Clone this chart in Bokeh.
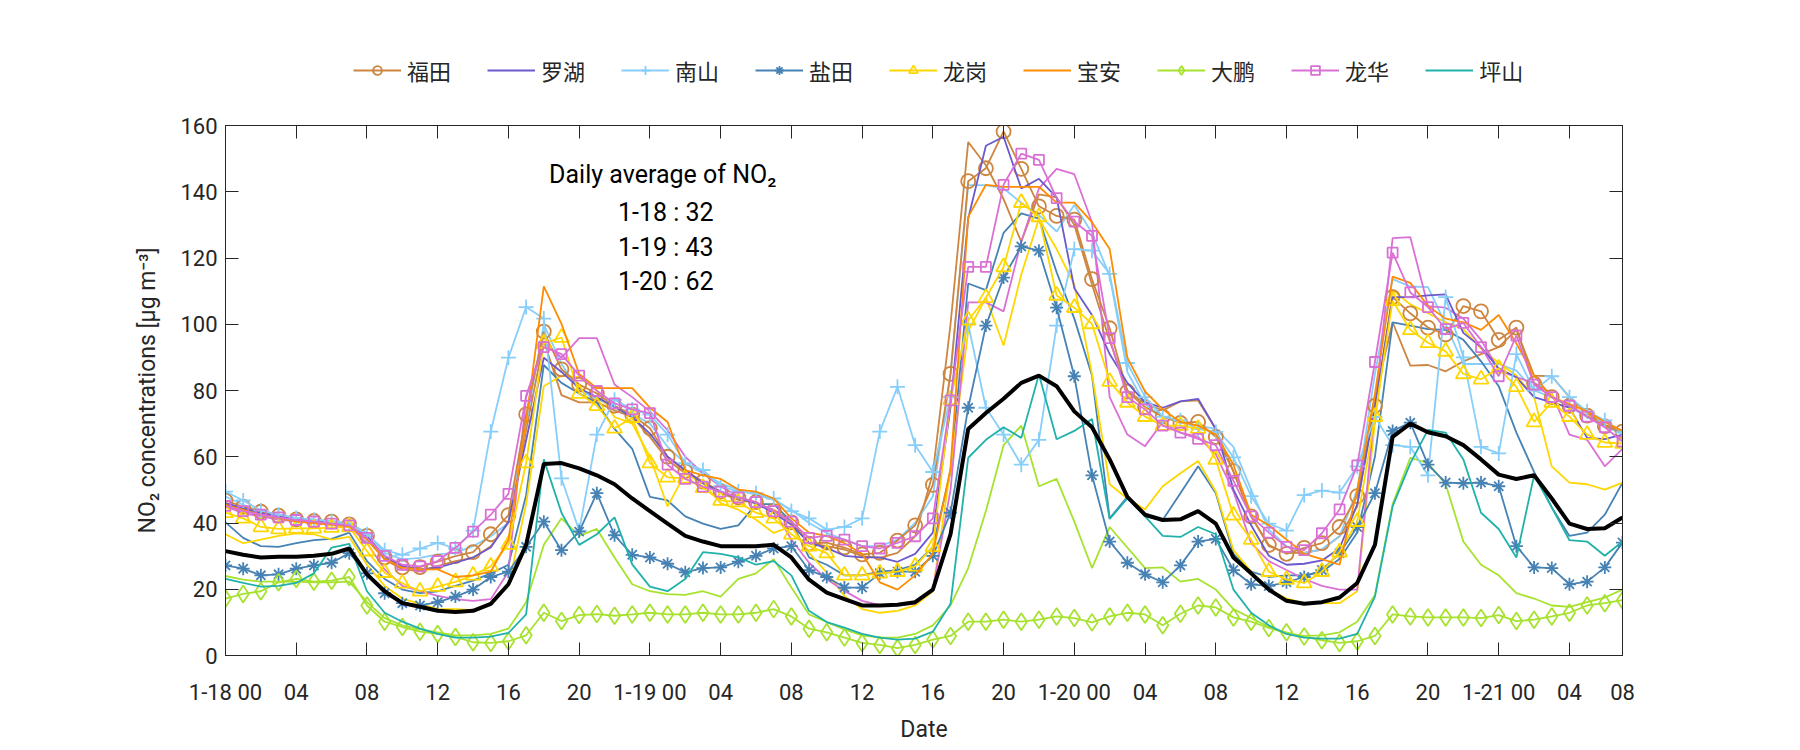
from bokeh.plotting import figure
from bokeh.layouts import column
from bokeh.models import (Range1d, FixedTicker, LinearAxis, Legend, LegendItem, Label)
from bokeh.embed import file_html
from bokeh.resources import INLINE

hours = list(range(80))
tick_pos = [0, 4, 8, 12, 16, 20, 24, 28, 32, 36, 40, 44, 48, 52, 56, 60, 64, 68, 72, 76, 79]
tick_txt = ["1-18 00", "04", "08", "12", "16", "20", "1-19 00", "04", "08", "12", "16", "20",
            "1-20 00", "04", "08", "12", "16", "20", "1-21 00", "04", "08"]
y_ticks = [0, 20, 40, 60, 80, 100, 120, 140, 160]

names = ["福田", "罗湖", "南山", "盐田", "龙岗", "宝安", "大鹏", "龙华", "坪山"]

futian = [46.8, 44.9, 43.4, 42.2, 41.1, 40.6, 40.4, 39.6, 36.1, 29.6,
          26.6, 26.7, 28.3, 30.0, 31.2, 36.6, 42.4, 72.8, 97.8, 86.4,
          81.8, 79.1, 75.4, 72.7, 68.6, 60.0, 55.7, 52.5, 49.5, 47.7,
          46.3, 43.6, 40.2, 33.8, 34.1, 32.6, 30.5, 31.0, 34.7, 39.3,
          51.5, 85.0, 143.2, 147.1, 158.2, 146.9, 135.6, 132.7, 131.6, 113.6,
          98.8, 79.7, 75.0, 72.1, 70.2, 70.5, 66.0, 55.7, 42.0, 33.4,
          30.7, 32.5, 33.9, 38.8, 48.1, 75.4, 108.2, 103.3, 99.0, 96.9,
          105.5, 103.9, 95.3, 99.0, 82.1, 78.0, 75.4, 72.4, 69.2, 67.6]
futian_b = [46, 44, 43, 42, 41, 40.5, 40, 39.5, 35.5, 29,
            26, 25.5, 27, 28.5, 29.5, 33, 40, 68, 95, 78.6,
            76.4, 76.4, 74, 72, 66, 59, 55, 52, 49, 47,
            46, 44, 40.5, 34, 33, 32, 30, 29.5, 31, 36,
            55, 100, 155, 148, 137.8, 124.9, 139.2, 138.3, 130, 112,
            95, 80, 76, 74, 76.7, 77, 68.4, 55.4, 42, 33,
            31, 31, 32, 36, 45, 78, 100.6, 87.5, 87.7, 85.8,
            88.8, 91.0, 93.1, 98.3, 84.5, 84.3, 78, 73.2, 69.6, 67.8]
luohu = [46, 44.5, 43, 42, 41, 40.5, 40, 39.5, 36, 30,
         27, 26, 26.5, 28, 29.6, 32.6, 40.4, 65, 89.9, 85.6,
         80.7, 78, 75, 72, 67, 60, 56, 52, 49.5, 47.5,
         46, 43, 39.5, 34, 32.5, 30.1, 29.6, 29.6, 28.3, 30.7,
         37.1, 75, 131.9, 153.9, 156.6, 141.0, 143.9, 138.3, 110.9, 102.8,
         91.0, 82.3, 76.4, 74.8, 76.7, 77.5, 68.4, 50.1, 39.3, 30.1,
         27.4, 27.7, 28.7, 32.3, 45.7, 75, 108.2, 108.2, 108.7, 109,
         97.4, 93.1, 86.7, 84, 78, 76.4, 74.8, 65.7, 65.3, 66.7]
nanshan = [49.5, 46.8, 43.8, 42.5, 41.5, 41, 40.5, 39.5, 36.6, 31.8,
           30.4, 32.3, 34.0, 32.3, 37.7, 67.6, 89.9, 105.2, 101.7, 53.5,
           37.7, 66.7, 77.2, 74.3, 72.7, 66.7, 58.1, 56.0, 51.1, 49.5,
           49.0, 47.4, 43.6, 41.4, 38.0, 38.8, 41.4, 67.6, 81.1, 63.5,
           55.4, 78, 100, 74.8, 66.7, 57.6, 65.1, 99.6, 122.7, 122.2,
           115.2, 88.3, 78, 72.1, 71.0, 68.4, 67.5, 59.8, 48.1, 39.8,
           37.7, 48.4, 49.8, 49.2, 57.1, 72, 63.5, 63.0, 54.4, 108.2,
           90, 63, 61, 91, 80, 84.3, 78, 73.7, 71, 67.3]
nanshan_b = [48, 45.5, 43.5, 42.5, 41.5, 41, 40.5, 40, 37, 31,
             29, 29.5, 30.5, 31, 33, 36, 40, 70, 100, 88,
             80, 77.5, 75, 73, 70, 63, 58, 55, 52, 50,
             48.5, 47, 44, 40, 37, 35, 33, 33, 35, 40,
             48, 85, 142, 142, 141, 136.7, 133, 128, 136, 127.6,
             114.6, 85.6, 75.9, 72.1, 70.5, 69.4, 68.4, 63.0, 50, 38,
             33, 31, 32, 36, 50, 85, 113.6, 111.4, 111.2, 100,
             88, 88, 88, 86, 80, 78, 75, 72, 69, 67]
yantian = [27.2, 26.2, 24.2, 24.5, 26.2, 27.2, 28.0, 30.9, 24.8, 18.8,
           15.8, 15.1, 16.1, 17.8, 19.9, 23.7, 25.3, 32.8, 40.4, 31.8,
           37.4, 49.0, 36.3, 30.4, 29.6, 27.7, 25.1, 26.4, 26.6, 28.3,
           30.1, 32.3, 33.0, 25.8, 23.7, 20.5, 20.5, 24.8, 25.3, 25.3,
           30.1, 43.1, 74.8, 99.6, 114.1, 123.5, 122.2, 105, 84.3, 54.4,
           34.4, 28.0, 24.5, 22.1, 27.2, 34.4, 35.2, 25.8, 21.5, 21.0,
           22.1, 23.7, 25.8, 30.9, 38.8, 49.0, 67.8, 70.3, 57.6, 52.2,
           52.0, 52.2, 51.1, 33.0, 26.6, 26.4, 21.5, 22.3, 26.6, 34.1]
yantian_b = [40.2, 35.5, 33.0, 32.8, 33.9, 34.8, 35.2, 37.1, 28.5, 23.1,
             19.9, 18.8, 19.4, 21.0, 22.6, 24.8, 27.4, 48.4, 87.7, 82.3,
             79.1, 76.4, 68.4, 62.4, 47.9, 46.8, 42.0, 39.8, 38.2, 39.3,
             45.7, 45.7, 40.4, 29.6, 27.4, 24.2, 24.2, 25.3, 25.8, 27.4,
             32.8, 55.4, 112.3, 110.3, 127.6, 133.5, 131.9, 115.7, 101.7, 84.5,
             41.4, 47.9, 42.0, 40.9, 49.0, 57.1, 49.0, 30.7, 25.3, 23.7,
             24.2, 24.2, 25.3, 29.1, 37.1, 60, 100.6, 99.6, 98.5, 98.3,
             95.3, 88.8, 81.3, 67.3, 55.4, 44.7, 36.1, 37.1, 42.5, 52.2]
longgang = [43.1, 41.4, 38.8, 38.2, 38.4, 38.4, 38.6, 38.8, 31.5, 25.0,
            21.8, 19.4, 20.8, 22.2, 24.2, 26.9, 33.5, 58.1, 94.2, 96.0,
            79.1, 75.4, 68.6, 71.8, 58.1, 53.8, 53.5, 50.6, 46.8, 46.3,
            43.1, 41.4, 36.6, 33.0, 30.9, 24.2, 24.2, 24.8, 25.3, 26.9,
            32.8, 77.2, 101.2, 108.0, 117.3, 136.7, 132.4, 108.7, 105.0, 100.1,
            82.7, 76.4, 72.1, 69.4, 69.4, 68.5, 59.2, 42.3, 35.0, 25.3,
            22.9, 21.9, 25.3, 31.2, 40.4, 72.1, 107.1, 98.3, 94.4, 91.8,
            85.0, 83.4, 86.7, 81.1, 70.5, 76.4, 72.1, 66.7, 64.3, 64.0]
longgang_b = [36.6, 33.9, 35.0, 36.1, 36.9, 36.6, 35.0, 35.8, 27.4, 21.0,
              17.2, 15.6, 14.0, 14.0, 13.7, 15.6, 21.0, 45.7, 81.3, 84.5,
              84, 80, 72, 70, 60, 45, 55, 52, 46, 44,
              41, 37, 39, 31, 25, 18, 14.0, 12.9, 13.5, 15.1,
              19.4, 56.5, 98, 108, 93.6, 115, 131.9, 122.7, 112, 85.0,
              51.7, 47.4, 44.1, 51.1, 55, 58.7, 49.5, 31.8, 25.3, 19.9,
              17.2, 15.8, 15.8, 15.8, 19.4, 70.5, 110.3, 106.0, 103.3, 100.6,
              98.5, 92.6, 88.3, 84.5, 78.0, 57.1, 52.2, 51.7, 50.1, 52.2]
baoan = [45.5, 44, 42.5, 41.5, 40.5, 40, 39.5, 39, 35, 29,
         26.5, 26, 26, 23.7, 24.2, 25.3, 35, 70.5, 111.4, 100.1,
         85, 80.7, 80.7, 80.7, 74.8, 70.5, 56, 54.4, 53.3, 50.1,
         49.5, 47.4, 41.4, 37.1, 36.1, 33.9, 30.7, 22.1, 19.9, 24.2,
         30.7, 56.5, 132.4, 142.1, 141.5, 141.5, 141.5, 136.7, 136.7, 130.8,
         122.7, 89.9, 79.7, 74.3, 70.5, 69.4, 66.7, 57.6, 42.5, 39.3,
         35.0, 30.7, 29.1, 27.4, 50, 79, 114.4, 112.5, 105.5, 101.7,
         100.6, 98.3, 102.8, 94.2, 84.5, 78.0, 75.9, 73.7, 70.5, 67.8]
dapeng = [17.2, 18.6, 19.4, 22.1, 23.1, 22.3, 22.6, 23.7, 15.1, 10.2,
          8.6, 7.2, 6.5, 5.6, 4.0, 3.8, 4.3, 6.1, 12.9, 10.4,
          12.2, 12.5, 12.0, 12.4, 12.9, 12.4, 12.4, 12.9, 12.4, 12.4,
          12.9, 14.0, 11.8, 8.1, 7.0, 5.4, 3.8, 3.2, 2.2, 3.2,
          4.8, 5.9, 10.2, 10.2, 10.8, 10.2, 10.8, 11.8, 11.3, 10.0,
          11.8, 12.9, 12.4, 9.1, 12.6, 15.1, 14.5, 11.5, 10.2, 8.3,
          7.0, 5.7, 4.6, 3.8, 4.3, 5.9, 12.4, 11.8, 11.5, 11.5,
          11.5, 11.3, 12.2, 10.4, 10.8, 11.8, 12.9, 15.1, 15.8, 16.7]
dapeng_b = [24.0, 22.9, 22.3, 22.3, 22.3, 22.1, 22.1, 22.3, 16.1, 11.3,
            9.1, 7.9, 7.0, 6.1, 6.1, 6.5, 8.1, 16.1, 33.4, 41.4,
            36.1, 38.2, 29.6, 21.5, 19.4, 18.5, 18.3, 19.4, 17.8, 23.1,
            24.8, 29.1, 20.5, 12.4, 10.1, 7.9, 6.1, 5.4, 5.4, 6.5,
            9.1, 15.1, 26.4, 43.6, 63.5, 69.4, 51.1, 53.3, 40.4, 26.4,
            38.8, 32.6, 26.4, 26.6, 22.3, 23.1, 19.9, 14.0, 11.3, 8.6,
            6.5, 5.9, 6.1, 7.0, 10.2, 18.3, 45.7, 59.7, 58.1, 51.7,
            34.4, 27.4, 24.2, 18.8, 17.2, 15.1, 14.7, 16.1, 17.5, 19.9]
longhua = [45.2, 43.6, 42.5, 41.7, 40.9, 40.4, 39.8, 39.3, 35.5, 30.1,
           27.4, 26.9, 28.5, 32.5, 37.4, 42.5, 48.8, 78.4, 93.1, 91.0,
           84.5, 79.9, 76.1, 74.3, 73.2, 57.6, 53.3, 51, 49.5, 47.7,
           46.3, 43.6, 40.4, 35.5, 36.1, 35.0, 33.0, 32.3, 34, 36,
           41.4, 77.0, 117.3, 117.3, 142.1, 151.5, 149.6, 138.1, 131, 126.7,
           95.8, 78, 74.3, 69.4, 67.3, 65.4, 63.5, 52.7, 42.0, 37.1,
           32.8, 31.8, 36.9, 44.1, 57.4, 88.6, 121.6, 109.6, 105.2, 98.5,
           100.4, 93.1, 84.3, 96.6, 81.8, 78.0, 75.4, 72.1, 68.9, 64.6]
longhua_b = [45, 43, 42, 41, 40.5, 40, 39.5, 39, 34, 26,
             21, 19.5, 18, 17, 16.5, 17, 25.3, 78, 94.7, 89.9,
             95.8, 95.8, 81.8, 78, 73.7, 68, 60, 55, 51, 48,
             46, 44, 35, 28, 23, 19.5, 16.5, 15.2, 15.2, 15.6,
             20, 50, 106.6, 106.6, 103.9, 125, 141, 146.9, 145.3, 130.8,
             78, 66.7, 63.2, 70.5, 67.3, 66, 60.8, 49.5, 33.9, 28.5,
             25.8, 23.1, 21.0, 19.9, 19.9, 75, 126, 126.3, 105.5, 105,
             101.7, 95.3, 86.1, 84.0, 82.3, 79.1, 66.7, 65.1, 57.1, 62.4]
pingshan = [23.1, 21.9, 20.8, 21.0, 21.9, 24.8, 32.6, 33.7, 19.4, 12.9,
            10.2, 8.1, 6.5, 5.4, 5.4, 5.7, 6.8, 12.4, 59.2, 43.1,
            33.4, 36.6, 41.7, 27.5, 20.8, 19.4, 23.1, 31.2, 30.7, 29.6,
            27.4, 28.5, 24.2, 13.5, 10.1, 8.4, 6.5, 5.4, 4.8, 5.1,
            7.2, 15.6, 59.7, 65.1, 68.9, 65.7, 84.8, 65.3, 67.8, 71.4,
            41.2, 47.4, 42.0, 36.1, 35.8, 38.8, 36.6, 19.9, 12.9, 9.1,
            6.5, 5.4, 5.1, 5.1, 6.5, 17.8, 45, 58, 68.1, 67.3,
            59.2, 43.1, 38.2, 29.6, 54.4, 44.7, 34.8, 34.4, 30.1, 34.4]
average = [31.5, 30.4, 29.6, 29.8, 29.8, 30.1, 30.7, 32.3, 24.5, 19.4,
           15.8, 14.7, 13.5, 13.1, 13.5, 15.6, 21.5, 33.4, 57.8, 58.1,
           56.5, 54.4, 51.7, 47.4, 43.6, 39.8, 36.1, 34.4, 33.0, 33.0,
           33.0, 33.4, 29.6, 22.9, 19.0, 17.0, 15.1, 15.1, 15.3, 16.1,
           19.9, 36.6, 68.4, 73.2, 77.5, 82.3, 84.5, 81.3, 73.7, 68.9,
           59.2, 47.9, 42.5, 40.9, 41.1, 43.6, 39.8, 29.6, 24.8, 19.9,
           16.5, 15.6, 16.1, 17.5, 21.9, 33.4, 66.0, 70.0, 67.4, 66.2,
           63.5, 59.2, 54.6, 53.3, 54.4, 47.4, 39.8, 38.2, 38.4, 41.7]

daily_lines = ["1-18 : 32", "1-19 : 43", "1-20 : 62"]

colors = {"福田": "#CD853F", "罗湖": "#6A5ACD", "南山": "#87CEFA", "盐田": "#4682B4",
          "龙岗": "#FFD700", "宝安": "#FF8C00", "大鹏": "#A6E22E", "龙华": "#DA70D6",
          "坪山": "#20B2AA"}
markers = {"福田": ("circle", 14), "南山": ("cross", 15), "盐田": ("asterisk", 13),
           "龙岗": ("triangle", 15), "大鹏": ("diamond", 17), "龙华": ("square", 10)}

main_series = {"福田": futian, "罗湖": luohu, "南山": nanshan, "盐田": yantian,
               "龙岗": longgang, "宝安": baoan, "大鹏": dapeng, "龙华": longhua,
               "坪山": pingshan}
extra_series = [("福田", futian_b), ("南山", nanshan_b), ("盐田", yantian_b),
                ("龙岗", longgang_b), ("大鹏", dapeng_b), ("龙华", longhua_b)]

FONT = "Roboto"
AXC = "#262626"
LW = 1.8

# ---------------- legend strip (top) ----------------
# Same series drawn again, but the ranges keep all of them out of view:
# this strip only carries the legend.
leg_fig = figure(width=1784, height=110, output_backend="svg", toolbar_location=None,
                 x_range=Range1d(0, 79), y_range=Range1d(-300, -200),
                 min_border=0, min_border_left=0, min_border_right=0,
                 min_border_top=0, min_border_bottom=0)
leg_fig.axis.visible = False
leg_fig.grid.visible = False
leg_fig.outline_line_color = None
leg_fig.title.visible = False
leg_fig.background_fill_color = "white"
leg_fig.border_fill_color = "white"

items = []
for nm in names:
    vals = main_series[nm]
    rs = [leg_fig.line(hours, vals, line_color=colors[nm], line_width=LW)]
    if nm in markers:
        mk, sz = markers[nm]
        rs.append(leg_fig.scatter(hours, vals, marker=mk, size=sz, fill_color=None,
                                  line_color=colors[nm], line_width=LW))
    items.append(LegendItem(label=nm, renderers=rs))

legend = Legend(items=items, orientation="horizontal", location=(128, 24),
                label_text_font="Noto Sans CJK SC", label_text_font_size="22px",
                label_text_color=AXC, glyph_width=48, glyph_height=22,
                label_standoff=6, spacing=36, padding=5, margin=0,
                border_line_color=None, background_fill_alpha=0)
leg_fig.add_layout(legend, "center")

# ---------------- main plot ----------------
p = figure(frame_width=1397, frame_height=530, x_range=Range1d(0, 79), y_range=Range1d(0, 160),
           output_backend="svg", toolbar_location=None,
           min_border_left=225, min_border_right=162, min_border_top=15, min_border_bottom=79)
p.title.visible = False
p.grid.visible = False
p.outline_line_color = AXC
p.outline_line_width = 1
p.background_fill_color = "white"
p.border_fill_color = "white"

for nm, vals in extra_series:
    p.line(hours, vals, line_color=colors[nm], line_width=LW)

for nm in names:
    vals = main_series[nm]
    p.line(hours, vals, line_color=colors[nm], line_width=LW)
    if nm in markers:
        mk, sz = markers[nm]
        p.scatter(hours, vals, marker=mk, size=sz, fill_color=None,
                  line_color=colors[nm], line_width=LW)

p.line(hours, average, line_color="black", line_width=4)

overrides = {tp: tt for tp, tt in zip(tick_pos, tick_txt)}
for ax in p.xaxis:
    ax.ticker = FixedTicker(ticks=tick_pos)
    ax.major_label_overrides = overrides
    ax.axis_label = "Date"
    ax.major_label_standoff = 24
    ax.axis_label_standoff = 8
for ax in p.yaxis:
    ax.ticker = FixedTicker(ticks=y_ticks)
    ax.axis_label = "NO₂ concentrations [μg m⁻³]"
    ax.major_label_standoff = 8
    ax.axis_label_standoff = 16

for ax in list(p.xaxis) + list(p.yaxis):
    ax.major_tick_in = 13
    ax.major_tick_out = 0
    ax.minor_tick_line_color = None
    ax.axis_line_color = AXC
    ax.major_tick_line_color = AXC
    ax.major_label_text_font = FONT
    ax.major_label_text_font_size = "22px"
    ax.major_label_text_color = AXC
    ax.axis_label_text_font = FONT
    ax.axis_label_text_font_size = "23px"
    ax.axis_label_text_font_style = "normal"
    ax.axis_label_text_color = AXC

top = LinearAxis(ticker=FixedTicker(ticks=tick_pos), major_tick_in=13, major_tick_out=0,
                 major_label_text_color=None, major_label_text_font_size="2px",
                 minor_tick_line_color=None,
                 axis_line_color=AXC, major_tick_line_color=AXC, major_label_standoff=0)
right = LinearAxis(ticker=FixedTicker(ticks=y_ticks),
                   major_tick_in=13, major_tick_out=0,
                   major_label_text_color=None, major_label_text_font_size="2px",
                   minor_tick_line_color=None,
                   axis_line_color=AXC, major_tick_line_color=AXC, major_label_standoff=0)
p.add_layout(top, "above")
p.add_layout(right, "right")

p.add_layout(Label(x=18.3, y=145.2, text="Daily average of NO₂", text_align="left",
                   text_baseline="middle", text_font=FONT, text_font_size="25px",
                   text_color="black"))
for i, t in enumerate(daily_lines):
    p.add_layout(Label(x=24.9, y=133.6 - 10.3 * i, text=t, text_align="center",
                       text_baseline="middle", text_font=FONT, text_font_size="25px",
                       text_color="black"))

layout = column(leg_fig, p, spacing=0)
open("out.html", "w").write(file_html(layout, INLINE))
